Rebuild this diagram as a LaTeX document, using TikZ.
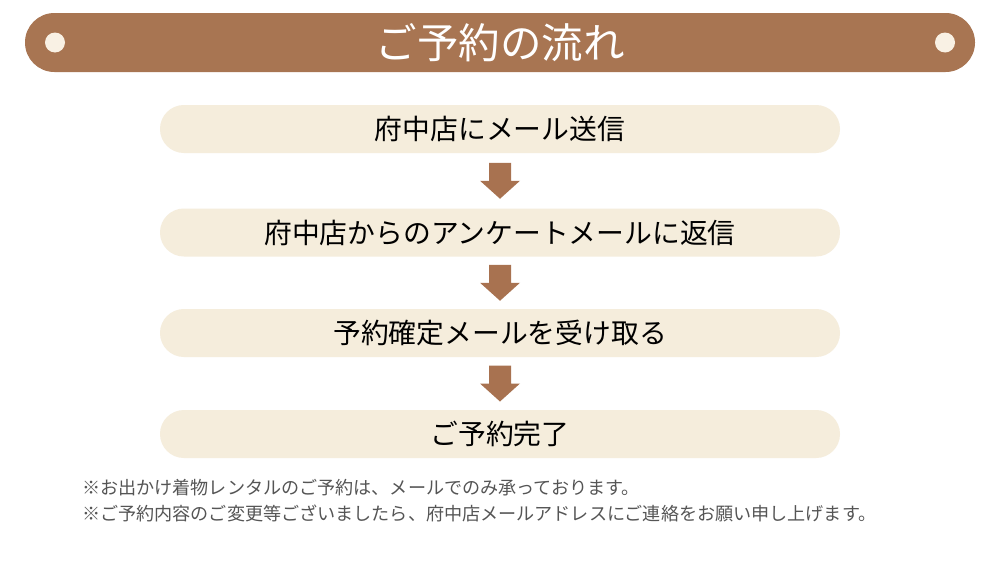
\documentclass[tikz,border=0pt]{standalone}
\usepackage{fontspec}
\usetikzlibrary{calc}
\newfontfamily\jp{Noto Sans CJK JP}
\definecolor{hdrbrown}{HTML}{A87552}
\definecolor{dotcream}{HTML}{F9F1E4}
\definecolor{boxcream}{HTML}{F5EDDC}
\definecolor{arrowbrown}{HTML}{A87250}
\definecolor{notegray}{HTML}{555555}
\newcommand\flowarrow[1]{\fill[arrowbrown] ([shift={(-11,-18)}]#1) -- ++(22,0) -- ++(0,18) -- ++(9,0) -- ++(-20,18) -- ++(-20,-18) -- ++(9,0) -- cycle;}
\begin{document}
\begin{tikzpicture}[x=1pt,y=-1pt,
  header/.style={fill=hdrbrown, minimum width=950pt, minimum height=59pt, rounded corners=29.4pt, inner sep=0pt, text=white, font=\jp\fontsize{41.5pt}{44pt}\selectfont},
  dot/.style={circle, fill=dotcream, minimum size=20pt, inner sep=0pt},
  stepbox/.style={fill=boxcream, minimum width=680pt, minimum height=48pt, rounded corners=23.9pt, inner sep=0pt, text=black, font=\jp\fontsize{27.8pt}{30pt}\selectfont},
  note/.style={anchor=west, inner sep=0pt, text=notegray, font=\jp\fontsize{18.1pt}{20pt}\selectfont}
]
\useasboundingbox (0,0) rectangle (1000,573);
\fill[white] (0,0) rectangle (1000,573);
\node[header] (title) at (500,42.5) {ご予約の流れ};
\node[dot] (dl) at (55,42.5) {};
\node[dot] (dr) at (945,42.5) {};
\node[stepbox] (s1) at (500,129) {府中店にメール送信};
\node[stepbox] (s2) at (500,232.5) {府中店からのアンケートメールに返信};
\node[stepbox] (s3) at (500,333) {予約確定メールを受け取る};
\node[stepbox] (s4) at (500,434) {ご予約完了};
\flowarrow{$(s1.south)!0.5!(s2.north)$}
\flowarrow{$(s2.south)!0.5!(s3.north)$}
\flowarrow{$(s3.south)!0.5!(s4.north)$}
\node[note] (n1) at (82,488) {※お出かけ着物レンタルのご予約は、メールでのみ承っております。};
\node[note] (n2) at (82,513) {※ご予約内容のご変更等ございましたら、府中店メールアドレスにご連絡をお願い申し上げます。};
\end{tikzpicture}
\end{document}
